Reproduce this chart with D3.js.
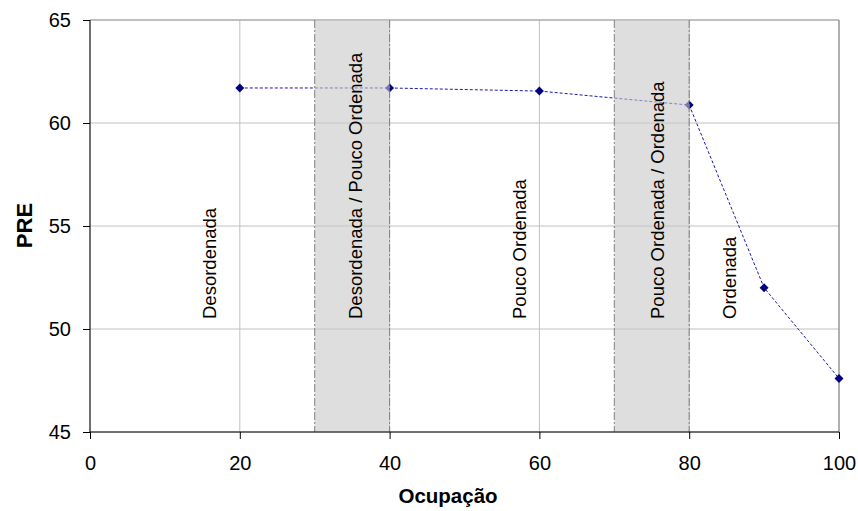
<!DOCTYPE html>
<html><head><meta charset="utf-8">
<script src="https://cdn.jsdelivr.net/npm/d3@7/dist/d3.min.js"></script>
<style>body{margin:0;background:#fff;} text{font-family:Arial,"Liberation Sans",sans-serif;}</style>
</head><body><svg id="c" width="858" height="511"></svg>
<script>
const occupation = [20, 40, 60, 80, 90, 100];
const pre = [61.7, 61.7, 61.55, 60.87, 52.0, 47.6];
const bands = [[30, 40], [70, 80]];
const zoneLabels = ["Desordenada", "Desordenada / Pouco Ordenada", "Pouco Ordenada", "Pouco Ordenada / Ordenada", "Ordenada"];
const zoneLabelX = [16.8, 36.3, 58.2, 76.7, 86.2];
const xTicks = [0, 20, 40, 60, 80, 100];
const yTicks = [45, 50, 55, 60, 65];

const svg = d3.select("#c");
const m = {l: 90, r: 19, t: 20, b: 79};
const W = 858, H = 511;
const FONT = "Arial, 'Liberation Sans', sans-serif";
const x = d3.scaleLinear().domain([0, 100]).range([m.l, W - m.r]);
const y = d3.scaleLinear().domain([45, 65]).range([H - m.b, m.t]);

// gridlines
svg.append("g").selectAll("line").data(yTicks).join("line")
  .attr("x1", x(0)).attr("x2", x(100)).attr("y1", d => y(d)).attr("y2", d => y(d))
  .attr("stroke", "#c0c0c0").attr("stroke-width", 1);
svg.append("g").selectAll("line").data(xTicks).join("line")
  .attr("x1", d => x(d)).attr("x2", d => x(d)).attr("y1", y(45)).attr("y2", y(65))
  .attr("stroke", "#c0c0c0").attr("stroke-width", 1);
svg.append("line").attr("x1", x(100)).attr("x2", x(100)).attr("y1", y(45)).attr("y2", y(65)).attr("stroke", "#808080");
svg.append("line").attr("x1", x(0)).attr("x2", x(100)).attr("y1", y(65)).attr("y2", y(65)).attr("stroke", "#a0a0a0");

// series line
const pts = occupation.map((d, i) => [d, pre[i]]);
svg.append("path").datum(pts)
  .attr("d", d3.line().x(d => x(d[0])).y(d => y(d[1])))
  .attr("fill", "none").attr("stroke", "#1a1aa6").attr("stroke-width", 1)
  .attr("stroke-dasharray", "3,2");
svg.append("g").selectAll("path").data(pts).join("path")
  .attr("transform", d => `translate(${x(d[0])},${y(d[1])}) rotate(45)`)
  .attr("d", d3.symbol(d3.symbolSquare, 40)())
  .attr("fill", "#000080");

// bands (on top, semi-transparent)
const bg = svg.append("g");
bands.forEach(b => {
  bg.append("rect").attr("x", x(b[0])).attr("width", x(b[1]) - x(b[0]))
    .attr("y", y(65)).attr("height", y(45) - y(65))
    .attr("fill", "#c8c8c8").attr("fill-opacity", 0.6);
  b.forEach(v => bg.append("line").attr("x1", x(v)).attr("x2", x(v)).attr("y1", y(65)).attr("y2", y(45))
    .attr("stroke", "#808080").attr("stroke-width", 1).attr("stroke-dasharray", "8,2,2,2"));
});

// zone labels
svg.append("g").selectAll("text").data(zoneLabels).join("text")
  .attr("transform", (d, i) => `translate(${x(zoneLabelX[i])},319) rotate(-90)`)
  .attr("font-size", 18.5).attr("fill", "#000").text(d => d);

// axes
const xa = svg.append("g").attr("transform", `translate(0,${y(45)})`)
  .call(d3.axisBottom(x).tickValues(xTicks).tickSize(7).tickPadding(17));
const ya = svg.append("g").attr("transform", `translate(${x(0)},0)`)
  .call(d3.axisLeft(y).tickValues(yTicks).tickSize(7).tickPadding(12));
[xa, ya].forEach(a => {
  a.attr("font-family", FONT).attr("font-size", 20);
  a.selectAll("path,line").attr("stroke", "#000");
  a.select(".domain").attr("d", a === xa ? `M${x(0)},0H${x(100)}` : `M0,${y(45)}V${y(65)}`);
  a.selectAll("text").attr("font-size", 20).attr("fill", "#000");
});

svg.append("text").attr("x", 448).attr("y", 503).attr("text-anchor", "middle")
  .attr("font-size", 20.5).attr("font-weight", "bold").text("Ocupação");
svg.append("text").attr("transform", `translate(32,225.5) rotate(-90)`).attr("text-anchor", "middle")
  .attr("font-size", 22).attr("font-weight", "bold").text("PRE");
</script></body></html>
